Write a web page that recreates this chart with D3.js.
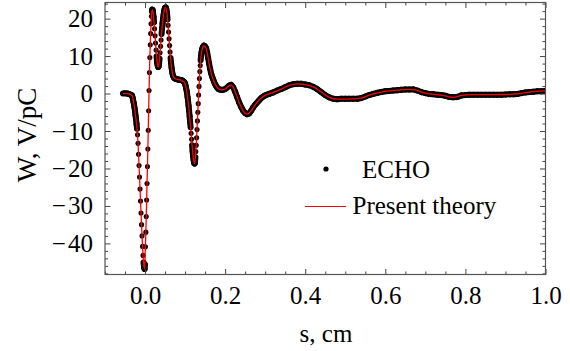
<!DOCTYPE html>
<html>
<head>
<meta charset="utf-8">
<script src="https://cdn.jsdelivr.net/npm/d3@7"></script>
<style>
  body { margin: 0; background: #fff; }
  svg text { font-family: "Liberation Serif", "Times New Roman", serif; fill: #000; }
</style>
</head>
<body>
<div id="chart"></div>
<script>
/**
 * DATA
 * */
// axis ticks
const xMajor = [0.0, 0.2, 0.4, 0.6, 0.8, 1.0];
const yMajor = [-40, -30, -20, -10, 0, 10, 20];

// ECHO points, [s (cm), W (V/pC)]
const echoPts = [
  [-0.055, 0], [-0.05, 0.05], [-0.045, 0], [-0.04, -0.1], [-0.035, -0.35],
  [-0.03375, -0.4], [-0.0325, -0.6], [-0.03125, -1.0], [-0.03, -1.6], [-0.02875, -2.3],
  [-0.0275, -3.0], [-0.02625, -3.8], [-0.025, -4.7], [-0.02375, -5.8], [-0.0225, -6.9],
  [-0.02125, -8.1], [-0.02, -9.4], [-0.01875, -11.0], [-0.0175, -13.3], [-0.01625, -16.2],
  [-0.015, -19.2], [-0.01375, -22.3], [-0.0125, -25.5], [-0.01125, -28.7], [-0.01, -31.9],
  [-0.00875, -35.0], [-0.0075, -38.0], [-0.00625, -40.8], [-0.005, -43.2], [-0.00375, -45.1],
  [-0.0025, -46.3], [-0.0012, -46.8],
  [-0.0002, -45.6], [0.001, -40.9], [0.002, -37.0], [0.003, -32.8], [0.004, -28.4],
  [0.005, -24.0], [0.006, -19.5], [0.007, -14.8], [0.008, -9.8], [0.009, -4.6],
  [0.01, 0.8], [0.011, 5.6], [0.012, 9.6], [0.013, 13.0], [0.014, 16.0],
  [0.015, 18.6], [0.016, 20.6], [0.017, 21.9], [0.018, 22.4], [0.019, 22.3], [0.02, 21.6],
  [0.02125, 20.5], [0.0225, 19.0], [0.02375, 17.3], [0.025, 15.4], [0.02625, 13.5],
  [0.0275, 11.6], [0.02875, 9.9], [0.03, 8.5], [0.03125, 7.6], [0.0325, 7.1],
  [0.03375, 7.2], [0.035, 8.0], [0.03625, 9.3], [0.0375, 10.9], [0.03875, 12.6],
  [0.04, 14.3], [0.04125, 15.9], [0.0425, 17.4], [0.04375, 18.8], [0.045, 20.0],
  [0.04625, 21.0], [0.0475, 21.9], [0.04875, 22.5], [0.05, 22.9], [0.05125, 23.0],
  [0.0525, 22.8], [0.05375, 22.2], [0.055, 21.2], [0.05625, 19.8], [0.0575, 18.2],
  [0.05875, 16.4], [0.06, 14.6], [0.06125, 12.8], [0.0625, 11.1], [0.06375, 9.5],
  [0.065, 8.1], [0.06625, 6.9], [0.0675, 5.9], [0.06875, 5.2], [0.07, 4.7],
  [0.0725, 4.2], [0.075, 4.0], [0.0775, 3.9], [0.08, 3.8], [0.0825, 3.75],
  [0.085, 3.7], [0.0875, 3.65], [0.09, 3.6], [0.0925, 3.5], [0.095, 3.3],
  [0.09625, 3.2], [0.0975, 3.1], [0.09875, 2.9], [0.1, 2.6], [0.10125, 2.1],
  [0.1025, 1.5], [0.10375, 0.8], [0.105, 0.0], [0.10625, -1.0], [0.1075, -2.1],
  [0.10875, -3.3], [0.11, -4.6], [0.11125, -6.0], [0.1125, -7.5], [0.11375, -9.0],
  [0.115, -10.6], [0.11625, -12.2], [0.1175, -13.8], [0.11875, -15.3], [0.12, -16.7],
  [0.12125, -17.8], [0.1225, -18.5], [0.12375, -18.7],
  [0.1248, -18.2], [0.1258, -17.0], [0.1268, -15.5], [0.1278, -13.8], [0.1288, -11.8],
  [0.1298, -9.6], [0.1308, -7.3], [0.1318, -5.0], [0.1328, -2.7], [0.1338, -0.4],
  [0.1348, 1.9], [0.1358, 4.0], [0.1368, 5.9], [0.1378, 7.5], [0.1388, 8.9],
  [0.1398, 10.0], [0.141, 11.0], [0.1425, 11.8], [0.144, 12.3], [0.1455, 12.6],
  [0.147, 12.8], [0.1485, 12.7], [0.15, 12.5],
  [0.1525, 12.1], [0.155, 11.0], [0.1575, 9.5], [0.16, 8.0], [0.1625, 6.6],
  [0.165, 5.4], [0.1675, 4.5], [0.17, 3.8], [0.1725, 3.1], [0.175, 2.5],
  [0.1775, 2.0], [0.18, 1.6], [0.1825, 1.3], [0.185, 1.1], [0.19, 1.0],
  [0.195, 1.0], [0.2, 1.2], [0.205, 1.6], [0.21, 2.1], [0.215, 2.3],
  [0.22, 1.7], [0.225, 0.5], [0.23, -1.0], [0.235, -2.4], [0.24, -3.6],
  [0.245, -4.6], [0.25, -5.2], [0.255, -5.5], [0.26, -5.3], [0.265, -4.6],
  [0.27, -3.7], [0.275, -3.0], [0.28, -2.4], [0.285, -1.8], [0.29, -1.2], [0.295, -0.8],
  [0.30, -0.5], [0.31, -0.1], [0.32, 0.3], [0.33, 0.8], [0.34, 1.2],
  [0.35, 1.7], [0.36, 2.2], [0.37, 2.5], [0.38, 2.6], [0.39, 2.6],
  [0.40, 2.4], [0.41, 2.2], [0.42, 1.8], [0.43, 1.2], [0.44, 0.4],
  [0.45, -0.4], [0.46, -1.0], [0.47, -1.4], [0.48, -1.5], [0.49, -1.4],
  [0.50, -1.4], [0.51, -1.4], [0.52, -1.4], [0.53, -1.4], [0.54, -1.2],
  [0.55, -0.8], [0.56, -0.4], [0.57, -0.1], [0.58, 0.2], [0.59, 0.4],
  [0.60, 0.6], [0.61, 0.7], [0.62, 0.8], [0.63, 0.9], [0.64, 1.0],
  [0.65, 1.1], [0.66, 1.1], [0.67, 1.1], [0.68, 0.8], [0.69, 0.4],
  [0.70, 0.1], [0.71, -0.1], [0.72, -0.2], [0.73, -0.3], [0.74, -0.4],
  [0.75, -0.6], [0.76, -0.9], [0.77, -1.0], [0.78, -0.9], [0.79, -0.5],
  [0.80, -0.4], [0.81, -0.35], [0.82, -0.3], [0.83, -0.3], [0.84, -0.3],
  [0.85, -0.3], [0.86, -0.3], [0.87, -0.3], [0.88, -0.3], [0.89, -0.3],
  [0.90, -0.25], [0.91, -0.2], [0.92, -0.2], [0.93, -0.1], [0.94, 0.1],
  [0.95, 0.3], [0.96, 0.4], [0.97, 0.5], [0.98, 0.6], [0.99, 0.6], [1.0, 0.7]
];

// present theory, [s (cm), W (V/pC)]
const theoryPts = [
  [-0.055, 0], [-0.045, 0], [-0.04, -0.1], [-0.035, -0.35], [-0.0325, -0.6],
  [-0.03, -1.6], [-0.0275, -3.0], [-0.025, -4.7], [-0.0225, -6.9], [-0.02, -9.4],
  [-0.0175, -13.3], [-0.015, -19.2], [-0.0125, -25.5], [-0.01, -31.9], [-0.0075, -38.0],
  [-0.005, -43.2], [-0.0025, -46.3], [-0.0012, -46.8], [0.0, -44.0], [0.002, -37.0],
  [0.004, -28.4], [0.006, -19.5], [0.008, -9.8], [0.01, 0.8], [0.012, 9.6],
  [0.014, 16.0], [0.016, 20.6], [0.018, 22.4], [0.02, 21.6], [0.0225, 19.0],
  [0.025, 15.4], [0.0275, 11.6], [0.03, 8.5], [0.0325, 7.1], [0.035, 8.0],
  [0.0375, 10.9], [0.04, 14.3], [0.0425, 17.4], [0.045, 20.0], [0.0475, 21.9],
  [0.05125, 23.0], [0.055, 21.2], [0.0575, 18.2], [0.06, 14.6], [0.0625, 11.1],
  [0.065, 8.1], [0.0675, 5.9], [0.07, 4.7], [0.075, 4.0], [0.085, 3.7],
  [0.095, 3.3], [0.1, 2.6], [0.1025, 1.5], [0.105, 0.0], [0.1075, -2.1],
  [0.11, -4.6], [0.1125, -7.5], [0.115, -10.6], [0.1175, -13.8], [0.12, -16.7],
  [0.12375, -18.7], [0.1268, -15.5], [0.1298, -9.6], [0.1328, -2.7], [0.1358, 4.0],
  [0.1388, 8.9], [0.1425, 11.8], [0.147, 12.8], [0.1525, 12.1], [0.1575, 9.5],
  [0.1625, 6.6], [0.1675, 4.5], [0.1725, 3.1], [0.18, 1.6], [0.19, 1.0],
  [0.2, 1.2], [0.21, 2.1], [0.215, 2.3], [0.22, 1.7], [0.225, 0.5],
  [0.235, -2.4], [0.245, -4.6], [0.255, -5.5], [0.265, -4.6], [0.275, -3.0],
  [0.29, -1.2], [0.30, -0.5], [0.32, 0.3], [0.34, 1.2], [0.36, 2.2],
  [0.38, 2.6], [0.40, 2.4], [0.42, 1.8], [0.44, 0.4], [0.46, -1.0],
  [0.48, -1.5], [0.52, -1.4], [0.54, -1.2], [0.56, -0.4], [0.58, 0.2],
  [0.60, 0.6], [0.63, 0.9], [0.66, 1.1], [0.675, 1.0], [0.69, 0.4],
  [0.71, -0.1], [0.74, -0.4], [0.77, -1.0], [0.79, -0.5], [0.82, -0.3],
  [0.90, -0.25], [0.93, -0.1], [0.96, 0.4], [1.0, 0.7]
];

/**
 * CONSTANTS
 * */
const width = 570,
  height = 351,
  margin = { top: 2.5, right: 24.5, bottom: 76.5, left: 105 };
const serif = '"Liberation Serif", "Times New Roman", serif';
const fontSize = 25;
const dotR = 3;
const echoStep = 0.00125; // sampling step of the ECHO run

const svg = d3.select("#chart")
  .append("svg")
  .attr("width", width)
  .attr("height", height);

const x = d3.scaleLinear()
  .domain([-0.1, 1.0])
  .range([margin.left, width - margin.right]);

const y = d3.scaleLinear()
  .domain([-48.3, 24.3])
  .range([height - margin.bottom, margin.top]);

const xMinor = d3.range(-0.1, 1.0001, 0.05).filter(v => !xMajor.some(m => Math.abs(m - v) < 1e-6));
const yMinor = d3.range(-48, 24.1, 2).filter(v => v % 10 !== 0);

const fmtY = v => (v < 0 ? "\u2212\u200a" + Math.abs(v) : String(v));

// clip for data
svg.append("clipPath").attr("id", "clip")
  .append("rect")
  .attr("x", margin.left)
  .attr("y", margin.top)
  .attr("width", width - margin.left - margin.right)
  .attr("height", height - margin.top - margin.bottom);

/**
 * DATA MARKS
 * */
const plot = svg.append("g").attr("clip-path", "url(#clip)");

// dense ECHO dots merge into a band where they are closer than their size
const band = plot.append("g")
  .attr("stroke", "#000")
  .attr("stroke-width", dotR * 2)
  .attr("stroke-linecap", "round");
for (let i = 1; i < echoPts.length; i++) {
  const [s0, w0] = echoPts[i - 1], [s1, w1] = echoPts[i];
  const d = Math.hypot(x(s1) - x(s0), y(w1) - y(w0));
  if (d * (echoStep / (s1 - s0)) < dotR * 2) {
    band.append("line")
      .attr("x1", x(s0)).attr("y1", y(w0))
      .attr("x2", x(s1)).attr("y2", y(w1));
  }
}

plot.append("g")
  .selectAll("circle")
  .data(echoPts)
  .join("circle")
  .attr("cx", d => x(d[0]))
  .attr("cy", d => y(d[1]))
  .attr("r", dotR * 0.85)
  .attr("fill", "#000");

const line = d3.line()
  .x(d => x(d[0]))
  .y(d => y(d[1]))
  .curve(d3.curveMonotoneX);

plot.append("path")
  .datum(theoryPts)
  .attr("d", line)
  .attr("fill", "none")
  .attr("stroke", "#ff0000")
  .attr("stroke-width", 1.3);

/**
 * FRAME AND AXES
 * */
const tickColor = "#444";
const bottom = height - margin.bottom, right = width - margin.right;

function styleAxis(g) {
  g.attr("font-family", serif).attr("font-size", fontSize);
  g.select(".domain").remove();
  g.selectAll(".tick line").attr("stroke", tickColor);
  g.selectAll(".tick text")
    .style("font-family", serif)
    .style("font-size", fontSize + "px");
}

// bottom
svg.append("g").attr("transform", `translate(0,${bottom})`)
  .call(d3.axisBottom(x).tickValues(xMajor).tickSize(-5.5).tickPadding(11.5).tickFormat(d3.format(".1f")))
  .call(styleAxis);
svg.append("g").attr("transform", `translate(0,${bottom})`)
  .call(d3.axisBottom(x).tickValues(xMinor).tickSize(-3).tickFormat(""))
  .call(styleAxis);
// top
svg.append("g").attr("transform", `translate(0,${margin.top})`)
  .call(d3.axisTop(x).tickValues(xMajor).tickSize(-5.5).tickFormat(""))
  .call(styleAxis);
svg.append("g").attr("transform", `translate(0,${margin.top})`)
  .call(d3.axisTop(x).tickValues(xMinor).tickSize(-3).tickFormat(""))
  .call(styleAxis);
// left
svg.append("g").attr("transform", `translate(${margin.left},0)`)
  .call(d3.axisLeft(y).tickValues(yMajor).tickSize(-5.5).tickPadding(12).tickFormat(fmtY))
  .call(styleAxis);
svg.append("g").attr("transform", `translate(${margin.left},0)`)
  .call(d3.axisLeft(y).tickValues(yMinor).tickSize(-3).tickFormat(""))
  .call(styleAxis);
// right
svg.append("g").attr("transform", `translate(${right},0)`)
  .call(d3.axisRight(y).tickValues(yMajor).tickSize(-5.5).tickFormat(""))
  .call(styleAxis);
svg.append("g").attr("transform", `translate(${right},0)`)
  .call(d3.axisRight(y).tickValues(yMinor).tickSize(-3).tickFormat(""))
  .call(styleAxis);

svg.append("rect")
  .attr("x", margin.left)
  .attr("y", margin.top)
  .attr("width", right - margin.left)
  .attr("height", bottom - margin.top)
  .attr("fill", "none")
  .attr("stroke", "#555")
  .attr("stroke-width", 1.2);

// axis titles
svg.append("text")
  .attr("x", 326)
  .attr("y", 342)
  .attr("text-anchor", "middle")
  .attr("font-family", serif)
  .attr("font-size", fontSize)
  .text("s, cm");

svg.append("text")
  .attr("transform", "translate(36,135) rotate(-90)")
  .attr("text-anchor", "middle")
  .attr("font-family", serif)
  .attr("font-size", 27)
  .text("W, V/pC");

/**
 * LEGEND
 * */
const legend = svg.append("g")
  .attr("font-family", serif)
  .attr("font-size", fontSize);
legend.append("circle")
  .attr("cx", 326).attr("cy", 169).attr("r", 2.6).attr("fill", "#000");
legend.append("text")
  .attr("x", 362).attr("y", 178)
  .text("ECHO");
legend.append("line")
  .attr("x1", 305).attr("x2", 346)
  .attr("y1", 206.5).attr("y2", 206.5)
  .attr("stroke", "#ff0000").attr("stroke-width", 1);
legend.append("text")
  .attr("x", 352.5).attr("y", 213.5)
  .text("Present theory");
</script>
</body>
</html>
